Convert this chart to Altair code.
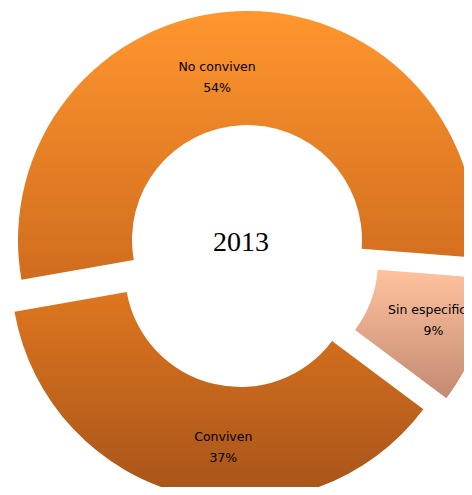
import altair as alt
import pandas as pd
import math

categories = ["No conviven", "Sin especificar", "Conviven"]
values = [54, 9, 37]
center_title = "2013"

df = pd.DataFrame({"cat": categories, "value": values})
start = math.radians(260)

base = (
    alt.Chart(df)
    .transform_joinaggregate(total="sum(value)")
    .transform_window(cum="sum(value)", frame=[None, 0])
    .transform_calculate(
        t0=f"{start} + 2*PI*(datum.cum - datum.value)/datum.total",
        t1=f"{start} + 2*PI*datum.cum/datum.total",
        pct="round(100*datum.value/datum.total) + '%'",
    )
    .transform_calculate(
        tm="(datum.t0 + datum.t1)/2",
        label="datum.cat + '\\n' + datum.pct",
    )
)


def grad(c0, c1):
    return alt.Gradient(
        gradient="linear",
        stops=[alt.GradientStop(color=c0, offset=0), alt.GradientStop(color=c1, offset=1)],
        x1=0, x2=0, y1=0, y2=1,
    )


styles = {
    "No conviven": dict(fill=grad("#FF962E", "#D06C1E"), xo=11, yo=-7.5, r=163, dx=-22, dy=-10.5),
    "Conviven": dict(fill=grad("#DE761F", "#A6531A"), xo=4, yo=24.5, r=180, dx=25, dy=-10.5),
    "Sin especificar": dict(fill=grad("#FFC29E", "#C28A72"), xo=27, yo=13.5, r=180, dx=2, dy=-14.5),
}

layers = []
for cat in categories:
    s = styles[cat]
    sub = base.transform_filter(alt.datum.cat == cat)
    arc = sub.mark_arc(
        radius=229, radius2=115, fill=s["fill"], xOffset=s["xo"], yOffset=s["yo"]
    ).encode(
        theta=alt.Theta("t0:Q", scale=None),
        theta2="t1:Q",
    )
    layers.append(arc)

for cat in categories:
    s = styles[cat]
    sub = base.transform_filter(alt.datum.cat == cat)
    txt = sub.mark_text(
        font="DejaVu Sans", fontSize=12.5, color="black", lineBreak="\n", lineHeight=21,
        xOffset=s["xo"], yOffset=s["yo"], dx=s["dx"], dy=s["dy"], align="center", baseline="middle",
    ).encode(
        theta=alt.Theta("tm:Q", scale=None),
        radius=alt.value(s["r"]),
        text="label:N",
    )
    layers.append(txt)

center = alt.Chart(pd.DataFrame({"t": [center_title]})).mark_text(
    font="Liberation Serif", fontSize=28, color="black", dx=5, dy=-4.5,
    align="center", baseline="middle",
).encode(text="t:N")
layers.append(center)

chart = (
    alt.layer(*layers)
    .properties(width=456, height=479, padding=0,
                autosize=alt.AutoSizeParams(type="none"))
    .configure_view(stroke=None)
)

chart.save("out.html", embed_options={"renderer": "svg", "actions": False})
